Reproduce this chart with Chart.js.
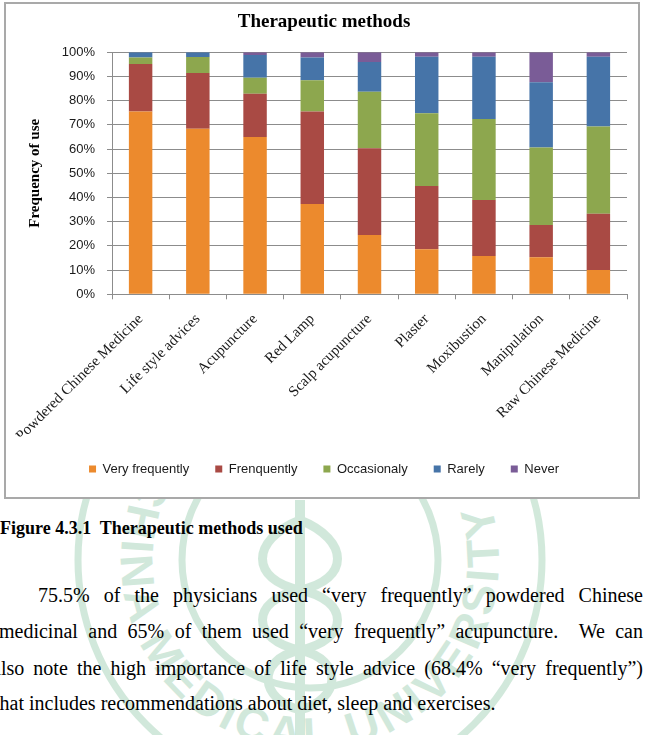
<!DOCTYPE html>
<html>
<head>
<meta charset="utf-8">
<script src="https://cdn.jsdelivr.net/npm/chart.js@4.4.1/dist/chart.umd.min.js"></script>
<style>
html,body{margin:0;padding:0;background:#fff;width:648px;height:735px;overflow:hidden;}
body{position:relative;}
#wm{position:absolute;left:0;top:0;z-index:1;}
#frame{position:absolute;left:4px;top:2px;width:632px;height:493px;border:2px solid #a9a9a9;background:#fff;z-index:2;}
#wrap{position:absolute;left:0;top:0;width:648px;height:500px;z-index:3;}
.cap{position:absolute;left:0;top:517px;font:bold 18px "Liberation Serif";line-height:22px;color:#000;z-index:4;white-space:nowrap;}
.ln{position:absolute;font:20px "Liberation Serif";line-height:24px;color:#000;z-index:4;text-align:justify;text-align-last:justify;white-space:nowrap;}
.last{text-align:left;text-align-last:left;}
</style>
</head>
<body>
<svg id="wm" width="648" height="735">
  <g fill="none" stroke="#a5d3b8" stroke-width="7" opacity="0.5">
    <circle cx="310" cy="560" r="232"/>
    <circle cx="310" cy="560" r="128"/>
    <line x1="300" y1="500" x2="300" y2="735" stroke-width="10"/>
    <path d="M300 520 C 250 540, 250 580, 300 590 C 350 600, 350 640, 300 650 C 255 660, 260 700, 300 710" stroke-width="9"/>
    <path d="M300 520 C 350 540, 350 580, 300 590 C 250 600, 250 640, 300 650 C 345 660, 340 700, 300 710" stroke-width="9"/>
  </g>
  <path id="arc" d="M 150 460 A 189 189 0 1 0 470 460" fill="none"/>
  <text font-family="Liberation Sans" font-weight="bold" font-size="46" fill="#a5d3b8" opacity="0.5" letter-spacing="4"><textPath href="#arc" startOffset="10">CHINA MEDICAL UNIVERSITY</textPath></text>
</svg>
<div id="frame"></div>
<div id="wrap"><canvas id="c" width="648" height="500"></canvas></div>
<div class="cap">Figure 4.3.1&nbsp; Therapeutic methods used</div>
<div class="ln" style="left:38px;width:605px;top:583px;">75.5% of the physicians used “very frequently” powdered Chinese</div>
<div class="ln" style="left:-1px;width:644px;top:619px;">medicinal and 65% of them used “very frequently” acupuncture.&nbsp; We can</div>
<div class="ln" style="left:-8px;width:651px;top:656px;">also note the high importance of life style advice (68.4% “very frequently”)</div>
<div class="ln last" style="left:-6px;top:691px;">that includes recommendations about diet, sleep and exercises.</div>
<script>
const categories = ["Powdered Chinese Medicine","Life style advices","Acupuncture","Red Lamp","Scalp acupuncture","Plaster","Moxibustion","Manipulation","Raw Chinese Medicine"];
const seriesNames = ["Very frequently","Frenquently","Occasionaly","Rarely","Never"];
const veryFrequently = [75.5, 68.4, 65.0, 37.3, 24.5, 18.6, 15.8, 15.3, 10.0];
const frequently     = [19.7, 23.0, 17.9, 38.2, 35.8, 26.2, 23.2, 13.3, 23.3];
const occasionally   = [ 2.7,  6.7,  6.6, 13.0, 23.4, 30.0, 33.4, 32.1, 36.0];
const rarely         = [ 2.1,  1.9,  9.4,  9.4, 12.3, 23.4, 25.8, 26.9, 28.9];
const never          = [ 0.0,  0.0,  1.1,  2.1,  4.0,  1.8,  1.8, 12.4,  1.8];
const seriesColors = ["#ec8a2d","#a94a44","#8da74e","#4674a8","#7a5c97"];
const yTickValues = [0,10,20,30,40,50,60,70,80,90,100];

const seriesData = [veryFrequently, frequently, occasionally, rarely, never];
const gridColor = "#8c8c8c";

new Chart(document.getElementById("c"), {
  type: "bar",
  data: {
    labels: categories,
    datasets: seriesData.map((d, i) => ({
      label: seriesNames[i],
      data: d,
      backgroundColor: seriesColors[i],
      borderWidth: 0,
      categoryPercentage: 1,
      barPercentage: 0.41
    }))
  },
  options: {
    responsive: false,
    animation: false,
    layout: { padding: { left: 0, right: 0, top: 0, bottom: 14.5 } },
    plugins: {
      tooltip: { enabled: false },
      title: {
        display: true,
        text: "Therapeutic methods",
        color: "#000",
        font: { family: "Liberation Serif", size: 19, weight: "bold" },
        padding: { top: 11, bottom: 18.5 }
      },
      legend: {
        position: "bottom",
        labels: {
          boxWidth: 7, boxHeight: 7, padding: 26,
          color: "#1a1a1a",
          font: { family: "Liberation Sans", size: 13 }
        }
      }
    },
    scales: {
      x: {
        stacked: true,
        grid: { display: true, drawOnChartArea: false, drawTicks: true, tickLength: 5, color: gridColor, offset: true },
        border: { display: true, color: gridColor, width: 1 },
        ticks: {
          minRotation: 45, maxRotation: 45, autoSkip: false, padding: 11,
          color: "#1a1a1a",
          font: { family: "Liberation Serif", size: 15 }
        },
        afterFit(s) { s.height = 142.2; s.paddingLeft = 0; s.paddingRight = 21; }
      },
      y: {
        stacked: true,
        min: 0, max: 100,
        afterBuildTicks(s) { s.ticks = yTickValues.map(v => ({ value: v })); },
        grid: { color: gridColor, tickLength: 5, drawTicks: true },
        border: { display: true, color: gridColor, width: 1 },
        ticks: {
          padding: 12,
          color: "#1a1a1a",
          font: { family: "Liberation Sans", size: 13 },
          callback: v => v + "%"
        },
        title: {
          display: true,
          text: "Frequency of use",
          color: "#000",
          font: { family: "Liberation Serif", size: 15, weight: "bold" },
          padding: { top: 26, bottom: 0 }
        },
        afterFit(s) { s.width = 112; }
      }
    }
  }
});
</script>
</body>
</html>
